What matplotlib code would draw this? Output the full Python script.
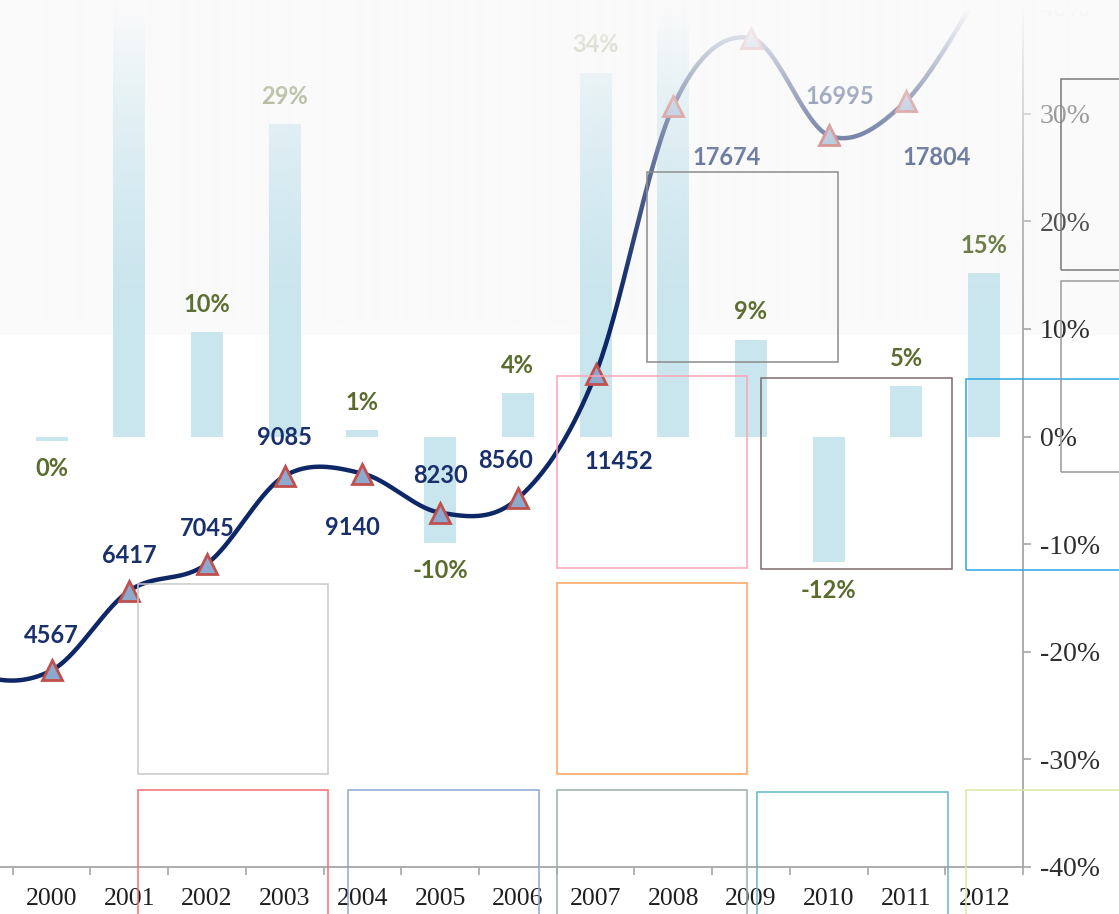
import numpy as np
import matplotlib
matplotlib.use("Agg")
import matplotlib.pyplot as plt
from matplotlib.patches import Rectangle
from matplotlib.ticker import FixedLocator, FuncFormatter

# line series (left axis, hidden): yearly totals
line_years = list(range(1998, 2013))
line_values = [6170, 4530, 4567, 6417, 7045, 9085, 9140, 8230, 8560,
               11452, 17674, 19256, 16995, 17804, 20500]

# bar series (right axis): growth rate in %
bar_years = list(range(2000, 2013))
growth_pct = [-0.4, 45, 9.7, 29, 0.6, -9.9, 4.0, 33.8, 52, 9.0, -11.7, 4.7, 15.2]

year_labels = [str(y) for y in bar_years]

# manual placement of the value labels (pixels, +down)
value_label_offsets = [(0, -35), (0, -35), (0, -35), (0, -35), (0, -35), (0, -38),
                       (-10, 54), (0, -37), (-12, -38), (23, 88), (53, 51),
                       (0, -40), (11, -39), (30, 57), (0, -40)]

W, H = 1119, 914
PT = 0.72  # points per pixel at dpi 100

# decorative empty boxes sitting on top of the chart (pixels)
boxes = [
    (138, 584, 328, 774, "#C8C8C8"),
    (138, 790, 328, 940, "#FF6B6B"),
    (348, 790, 539, 940, "#8FA6D6"),
    (557, 790, 747, 940, "#9DB0A6"),
    (757, 792, 948, 940, "#63B7C9"),
    (966, 790, 1140, 940, "#D9E8A6"),
    (557, 583, 747, 774, "#FFA35C"),
    (557, 376, 747, 568, "#FFA3B5"),
    (761, 378, 952, 569, "#7D6B6B"),
    (966, 379, 1140, 570, "#2AA7E0"),
    (647, 172, 838, 362, "#8C8C8C"),
    (1061, 79, 1140, 270, "#7A7A7A"),
    (1061, 281, 1140, 472, "#9A9A9A"),
]


def px_rect(x0, y0, x1, y1):
    return [x0 / W, 1 - y1 / H, (x1 - x0) / W, (y1 - y0) / H]


def catmull_rom(xs, ys, n=40):
    xs = np.asarray(xs, float)
    ys = np.asarray(ys, float)
    px = np.concatenate([[xs[0]], xs, [xs[-1]]])
    py = np.concatenate([[ys[0]], ys, [ys[-1]]])
    out_x, out_y = [], []
    t = np.linspace(0, 1, n)
    h00 = 2 * t**3 - 3 * t**2 + 1
    h10 = t**3 - 2 * t**2 + t
    h01 = -2 * t**3 + 3 * t**2
    h11 = t**3 - t**2
    for i in range(1, len(px) - 2):
        mx0 = (px[i + 1] - px[i - 1]) / 2
        mx1 = (px[i + 2] - px[i]) / 2
        my0 = (py[i + 1] - py[i - 1]) / 2
        my1 = (py[i + 2] - py[i]) / 2
        out_x.append(h00 * px[i] + h10 * mx0 + h01 * px[i + 1] + h11 * mx1)
        out_y.append(h00 * py[i] + h10 * my0 + h01 * py[i + 1] + h11 * my1)
    return np.concatenate(out_x), np.concatenate(out_y)


fig = plt.figure(figsize=(W / 100, H / 100), dpi=100)
fig.patch.set_facecolor("white")

# faint grey band behind the upper part
fig.add_artist(Rectangle((0, 1 - 335 / H), 1, 335 / H, transform=fig.transFigure,
                         facecolor="#FAFAFA", edgecolor="none", zorder=-1))

ax = fig.add_axes(px_rect(-65, 6, 1023, 867))
ax.patch.set_visible(False)

# line on hidden primary axis (twin created first, it resets tick sides)
ax2 = ax.twinx()
ax2.patch.set_visible(False)

bx = [y - 2000 for y in bar_years]
ax.bar(bx, growth_pct, width=0.41, color="#C9E5EE", zorder=2)
for x, v in zip(bx, growth_pct):
    off = 20 if v >= 0 else -20
    ax.annotate(f"{round(v)}%", (x, v), xytext=(0, off), textcoords="offset points",
                ha="center", va="center", fontsize=17, fontweight="bold",
                family="Lato", color="#5A6C2D")

ax.set_xlim(-1.5, 12.5)
ax.set_ylim(-40, 40)
ax.yaxis.tick_right()
ax.yaxis.set_label_position("right")
ax.yaxis.set_major_locator(FixedLocator(range(-40, 41, 10)))
ax.yaxis.set_major_formatter(FuncFormatter(lambda v, p: f"{int(v)}%"))
ax.tick_params(axis="y", which="both", left=False, labelleft=False, right=True,
               labelright=True, length=6, width=1.2, color="#A6A6A6", pad=6,
               labelsize=20, labelcolor="#2E2E2E")
for lab in ax.get_yticklabels():
    lab.set_family("Liberation Serif")

ax.set_xticks(bx)
ax.set_xticklabels(year_labels, family="Liberation Serif", fontsize=18.5, color="#1E1E1E")
ax.set_xticks(np.arange(-1.5, 12.6, 1), minor=True)
ax.tick_params(axis="x", which="major", length=0, pad=15)
ax.tick_params(axis="x", which="minor", length=6, width=1.2, color="#A6A6A6")

for s in ("left", "top"):
    ax.spines[s].set_visible(False)
for s in ("right", "bottom"):
    ax.spines[s].set_color("#A6A6A6")
    ax.spines[s].set_linewidth(1.3)

ax2.set_ylim(0, 20000)
ax2.yaxis.set_visible(False)
for s in ax2.spines.values():
    s.set_visible(False)

lx = [y - 2000 for y in line_years]
sx, sy = catmull_rom(lx, line_values)
ax2.plot(sx, sy, color="#0E2766", lw=3.2, zorder=3, clip_on=False)
ax2.plot(lx, line_values, ls="none", marker="^", ms=14, mfc="#8DA9CE",
         mec="#C0504D", mew=2, zorder=4, clip_on=False)
for x, v, (dx, dy) in zip(lx, line_values, value_label_offsets):
    ax2.annotate(str(v), (x, v), xytext=(dx * PT, -dy * PT), textcoords="offset points",
                 ha="center", va="center", fontsize=17, fontweight="bold",
                 family="Lato", color="#1A306B", annotation_clip=False)

# white wash fading the top of the chart
ov = fig.add_axes([0, 0, 1, 1], zorder=10)
ov.axis("off")
rows = np.arange(H)
alpha = np.where(rows < 335, np.clip(1.05 * ((335 - rows) / 335.0) ** 1.6, 0, 1), 0)
wash = np.zeros((H, 1, 4))
wash[:, 0, :3] = 250 / 255
wash[:, 0, 3] = alpha
ov.imshow(wash, extent=(0, 1, 0, 1), aspect="auto", interpolation="bilinear")
ov.set_xlim(0, 1)
ov.set_ylim(0, 1)

for x0, y0, x1, y1, c in boxes:
    fig.add_artist(Rectangle((x0 / W, 1 - y1 / H), (x1 - x0) / W, (y1 - y0) / H,
                             transform=fig.transFigure, facecolor="none",
                             edgecolor=c, lw=1.1, zorder=11))

fig.savefig("out.png", dpi=100)
